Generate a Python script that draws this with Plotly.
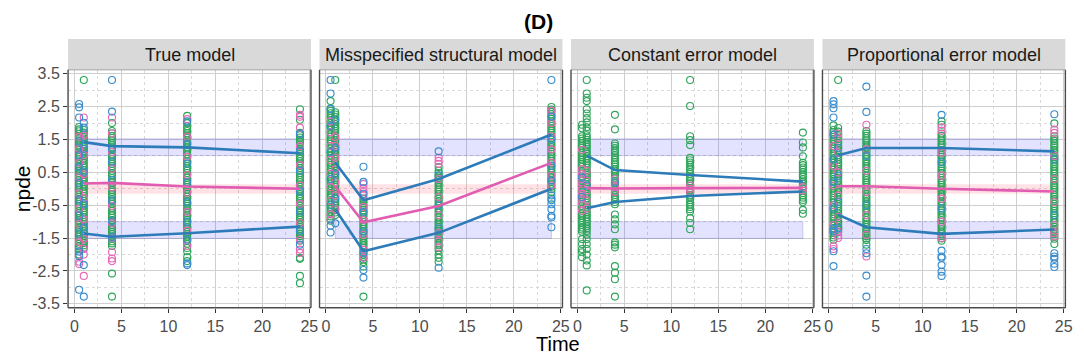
import plotly.graph_objects as go

W, H = 1084, 364

# ---------------------------------------------------------------- data
PANELS = ["True model", "Misspecified structural model",
          "Constant error model", "Proportional error model"]
TIMES = [0.5, 1, 4, 12, 24]          # observation times
BIN_TIMES = [1, 4, 12, 24]            # time bins of the empirical percentiles

# prediction intervals of the 5th / 50th / 95th percentiles (low, high)
PI_LOWER = [-1.51, -1.0]
PI_MEDIAN = [-0.15, 0.14]
PI_UPPER = [1.01, 1.52]

# npde values per panel and colour, one sub-list per observation time
true_green = [
    [1.88, 1.81, 1.75, 1.67, 1.6, 1.53, 1.47, 1.39, 1.32, 1.26, 1.18, 1.11, 1.04, 0.97, 0.9, 0.83, 0.75, 0.69,
     0.61, 0.54, 0.47, 0.4, 0.33, 0.26, 0.18, 0.12, 0.04, -0.03, -0.1, -0.17, -0.25, -0.31, -0.39, -0.46, -0.53,
     -0.6, -0.68, -0.74, -0.82, -0.89, -0.96, -1.03, -1.1, -1.18, -1.24, -1.32, -1.39, -1.46, -1.53, -1.61,
     -1.67, -1.75, -1.82, -2.0],
    [3.31, 1.79, 1.71, 1.65, 1.57, 1.5, 1.43, 1.35, 1.29, 1.21, 1.14, 1.07, 0.99, 0.92, 0.86, 0.78, 0.71, 0.64,
     0.57, 0.49, 0.43, 0.35, 0.28, 0.21, 0.13, 0.07, -0.01, -0.08, -0.15, -0.22, -0.29, -0.37, -0.43, -0.51,
     -0.58, -0.65, -0.72, -0.79, -0.87, -0.93, -1.01, -1.07, -1.15, -1.22, -1.29, -1.36, -1.44, -1.5, -1.58,
     -1.65, -1.72, -1.79],
    [2.0, 1.76, 1.69, 1.61, 1.55, 1.47, 1.4, 1.33, 1.26, 1.19, 1.12, 1.04, 0.98, 0.9, 0.83, 0.76, 0.69, 0.62,
     0.55, 0.47, 0.41, 0.33, 0.26, 0.19, 0.12, 0.05, -0.03, -0.09, -0.17, -0.24, -0.31, -0.38, -0.45, -0.53,
     -0.59, -0.67, -0.74, -0.81, -0.88, -0.95, -1.02, -1.1, -1.16, -1.24, -1.31, -1.38, -1.45, -1.52, -1.6,
     -1.66, -1.74, -2.58, -3.28],
    [2.22, 2.0, 1.9, 1.83, 1.76, 1.69, 1.62, 1.55, 1.47, 1.41, 1.33, 1.26, 1.19, 1.12, 1.05, 0.97, 0.91, 0.83,
     0.76, 0.69, 0.62, 0.55, 0.48, 0.4, 0.34, 0.26, 0.19, 0.12, 0.05, -0.02, -0.1, -0.16, -0.24, -0.31, -0.38,
     -0.45, -0.52, -0.6, -0.66, -0.74, -0.81, -0.88, -0.95, -1.02, -1.09, -1.17, -1.23, -1.31, -1.38, -1.45,
     -1.52, -1.59, -1.67, -1.8, -1.9, -2.08, -2.2],
    [2.42, 2.1, 1.7, 1.63, 1.56, 1.48, 1.42, 1.34, 1.27, 1.2, 1.13, 1.06, 0.98, 0.92, 0.84, 0.77, 0.7, 0.63,
     0.56, 0.48, 0.42, 0.34, 0.27, 0.2, 0.13, 0.06, -0.02, -0.08, -0.16, -0.23, -0.3, -0.37, -0.44, -0.51,
     -0.59, -0.65, -0.73, -0.8, -0.87, -0.94, -1.01, -1.08, -1.16, -1.22, -1.3, -1.37, -1.44, -1.51, -1.58,
     -2.1, -2.13, -2.65, -2.87],
]
true_pink = [
    [1.58, 1.21, 0.79, 0.36, -0.14, -0.61, -1.07, -1.62, -2.22, -2.29],
    [2.17, 1.62, 1.03, 0.44, -0.28, -0.93, -1.52, -1.83, -2.0, -2.65],
    [2.17, 1.69, 1.12, 0.61, 0.04, -0.52, -1.05, -1.5, -1.93, -2.12, -2.2],
    [2.12, 1.58, 0.97, 0.42, -0.12, -0.7, -1.27, -1.74],
    [2.25, 2.19, 1.86, 1.3, 0.72, 0.1, -0.46, -1.04, -1.55, -1.85, -1.95],
]
true_blue = [
    [2.58, 2.48, 2.17, 1.44, 1.02, 0.66, 0.18, -0.33, -0.81, -1.36, -1.91, -2.05, -3.07],
    [2.01, 1.86, 1.22, 0.52, -0.47, -1.18, -2.32, -3.28],
    [3.31, 2.35, 1.21, 0.83, 0.27, -0.35, -0.98, -1.47],
    [2.05, 1.36, 0.77, 0.2, -0.41, -1.0, -1.55, -2.27, -2.32],
    [1.67, 1.15, 0.55, -0.08, -0.69, -1.27, -1.7],
]

mis_green = [
    [2.67, 2.44, 2.37, 2.3, 2.22, 2.16, 2.08, 2.01, 1.94, 1.87, 1.8, 1.72, 1.66, 1.58, 1.51, 1.44, 1.37, 1.3,
     1.23, 1.15, 1.09, 1.01, 0.94, 0.87, 0.8, 0.73, 0.66, 0.58, 0.52, 0.44, 0.37, 0.3, 0.23, 0.16, 0.09, 0.01,
     -0.05, -0.13, -0.2, -0.27, -0.34, -0.41, -0.48, -0.56, -0.62, -0.7, -0.77, -0.84, -0.91, -0.97],
    [3.31, 2.33, 2.26, 2.19, 2.11, 2.05, 1.97, 1.9, 1.83, 1.76, 1.69, 1.62, 1.55, 1.47, 1.41, 1.33, 1.26, 1.19,
     1.12, 1.05, 0.98, 0.91, 0.84, 0.76, 0.7, 0.62, 0.55, 0.48, 0.41, 0.34, 0.27, 0.2, 0.12, 0.06, -0.02, -0.08,
     -0.16, -0.23, -0.3, -0.37, -0.44, -0.51, -0.58, -0.65, -0.72, -0.8],
    [-0.3, -0.37, -0.44, -0.51, -0.58, -0.65, -0.73, -0.79, -0.87, -0.94, -1.01, -1.08, -1.15, -1.22, -1.29,
     -1.36, -1.44, -1.5, -1.58, -1.65, -1.72, -1.79, -1.86, -1.93, -2.0, -2.08, -2.15, -2.23, -2.36, -3.28],
    [0.66, 0.55, 0.48, 0.41, 0.34, 0.26, 0.19, 0.12, 0.05, -0.02, -0.09, -0.16, -0.24, -0.3, -0.38, -0.45,
     -0.52, -0.59, -0.66, -0.73, -0.8, -0.87, -0.94, -1.02, -1.08, -1.16, -1.23, -1.3, -1.37, -1.44, -1.51,
     -1.58, -1.66, -1.72, -1.8, -1.87, -2.0, -2.1, -2.22],
    [2.49, 2.41, 2.34, 2.27, 2.19, 2.13, 2.05, 1.98, 1.91, 1.84, 1.77, 1.7, 1.63, 1.55, 1.49, 1.41, 1.34, 1.27,
     1.2, 1.13, 1.06, 0.99, 0.91, 0.85, 0.77, 0.7, 0.63, 0.56, 0.49, 0.42, 0.35, 0.27, 0.21, 0.13, 0.06, -0.01,
     -0.1, -0.3],
]
mis_pink = [
    [2.05, 1.72, 1.3, 0.88, 0.46, 0.05, -0.37, -0.78, -0.94],
    [1.58, 1.31, 0.95, 0.6, 0.2, -0.2, -0.62],
    [0.15, 0.02, -0.09, -0.2, -0.55, -0.95, -1.4, -1.85, -2.1],
    [0.95, 0.85, 0.76, 0.3, -0.25, -0.8, -1.35, -1.6, -1.78],
    [2.38, 2.0, 1.6, 1.2, 0.8, 0.4, 0.1],
]
mis_blue = [
    [3.31, 2.9, 2.43, 1.9, 1.12, 0.3, -0.5, -1.12, -1.33],
    [2.1, 1.25, 0.45, -0.3, -1.05],
    [0.67, 0.21, -0.15, -0.7, -1.3, -1.95, -2.47, -2.7],
    [1.14, 0.4, -0.5, -1.2, -2.4],
    [3.31, 2.2, 1.5, 0.7, 0.25, -0.2, -0.35, -0.47, -0.62, -0.82, -0.87, -1.17],
]

con_green = [
    [1.95, 1.84, 1.6, 1.53, 1.46, 1.39, 1.31, 1.25, 1.17, 1.1, 1.03, 0.96, 0.89, 0.81, 0.75, 0.67, 0.6, 0.53,
     0.46, 0.39, 0.32, 0.25, 0.17, 0.11, 0.03, -0.04, -0.11, -0.18, -0.25, -0.32, -0.39, -0.47, -0.53, -0.61,
     -0.67, -0.75, -0.82, -0.89, -0.96, -1.03, -1.1, -1.18, -1.24, -1.31, -1.53, -1.68, -1.83, -1.93, -2.08],
    [3.31, 2.9, 2.77, 2.67, 2.42, 2.29, 2.15, 2.02, 1.87, 1.77, 1.63, 1.56, 1.49, 1.42, 1.35, 1.28, 1.21, 1.13,
     1.07, 0.99, 0.92, 0.85, 0.78, 0.71, 0.64, 0.57, 0.49, 0.43, 0.35, 0.28, 0.21, 0.14, 0.07, 0.0, -0.07,
     -0.15, -0.21, -0.29, -0.36, -0.43, -0.5, -0.57, -0.64, -0.71, -0.78, -0.86, -0.92, -1.0, -1.07, -1.14,
     -1.21, -1.28, -1.4, -1.53, -1.68, -1.83, -2.0, -2.18, -2.33, -3.09],
    [2.25, 1.81, 1.38, 1.31, 1.24, 1.16, 1.1, 1.02, 0.95, 0.88, 0.81, 0.74, 0.67, 0.59, 0.53, 0.45, 0.38, 0.31,
     0.24, 0.17, 0.1, 0.03, -0.05, -0.11, -0.19, -0.26, -0.33, -0.4, -0.47, -0.78, -0.93, -1.08, -1.23, -1.63,
     -1.7, -1.78, -2.35, -2.55, -2.75, -3.28],
    [3.31, 2.52, 1.6, 1.48, 1.33, 0.94, 0.87, 0.8, 0.73, 0.66, 0.59, 0.51, 0.45, 0.37, 0.3, 0.23, 0.16, 0.09,
     0.02, -0.05, -0.12, -0.2, -0.26, -0.34, -0.41, -0.48, -0.55, -0.62, -0.69, -0.89, -1.04, -1.23],
    [1.71, 1.41, 1.26, 0.99, 0.79, 0.72, 0.65, 0.58, 0.51, 0.43, 0.37, 0.29, 0.22, 0.15, 0.08, 0.01, -0.06,
     -0.13, -0.2, -0.27, -0.34, -0.4, -0.64, -0.76],
]
con_pink = [
    [1.19, 0.6, 0.45, 0.3, 0.15, 0.0, -0.15, -0.3, -0.45, -0.67],
    [0.55, 0.25, -0.05, -0.35, -0.6],
    [0.3, 0.05, -0.1],
    [0.1, 0.0, -0.1],
    [0.05, -0.05],
]
con_blue = [
    [0.35, -0.25],
    [0.1],
    [0.2],
    [],
    [],
]

prop_green = [
    [1.93, 1.79, 1.72, 1.65, 1.58, 1.5, 1.44, 1.36, 1.29, 1.22, 1.15, 1.08, 1.01, 0.93, 0.87, 0.79, 0.72, 0.65,
     0.58, 0.51, 0.44, 0.37, 0.29, 0.23, 0.15, 0.08, 0.01, -0.06, -0.13, -0.2, -0.28, -0.34, -0.42, -0.49,
     -0.56, -0.63, -0.7, -0.77, -0.84, -0.91, -0.98, -1.06, -1.12, -1.2, -1.27, -1.34, -1.41, -1.48, -1.55],
    [3.31, 1.85, 1.74, 1.67, 1.6, 1.53, 1.45, 1.39, 1.31, 1.24, 1.17, 1.1, 1.03, 0.96, 0.89, 0.81, 0.75, 0.67,
     0.6, 0.53, 0.46, 0.39, 0.32, 0.25, 0.17, 0.11, 0.03, -0.04, -0.11, -0.18, -0.25, -0.32, -0.39, -0.47,
     -0.53, -0.61, -0.67, -0.75, -0.82, -0.89, -0.96, -1.03, -1.1, -1.18, -1.24, -1.32],
    [1.76, 1.68, 1.61, 1.54, 1.47, 1.4, 1.32, 1.26, 1.18, 1.12, 1.04, 0.97, 0.9, 0.83, 0.76, 0.69, 0.62, 0.54,
     0.48, 0.4, 0.33, 0.26, 0.19, 0.12, 0.05, -0.02, -0.1, -0.16, -0.24, -0.3, -0.38, -0.45, -0.52, -0.59,
     -0.66, -0.73, -0.8, -0.87, -0.95, -1.01, -1.09, -1.16, -1.23, -1.3, -1.37, -1.44, -1.51, -1.56, -1.7],
    [2.05, 1.95, 1.68, 1.61, 1.54, 1.47, 1.39, 1.33, 1.25, 1.18, 1.11, 1.04, 0.97, 0.9, 0.83, 0.75, 0.69, 0.61,
     0.55, 0.47, 0.4, 0.33, 0.26, 0.19, 0.12, 0.05, -0.03, -0.09, -0.17, -0.23, -0.31, -0.38, -0.45, -0.52,
     -0.59, -0.66, -0.73, -0.8, -0.87, -0.95, -1.01, -1.09, -1.15, -1.23, -1.3, -1.37, -1.44, -1.51, -1.58],
    [1.99, 1.6, 1.53, 1.46, 1.39, 1.31, 1.25, 1.17, 1.11, 1.03, 0.96, 0.89, 0.82, 0.75, 0.68, 0.6, 0.54, 0.46,
     0.39, 0.32, 0.25, 0.18, 0.11, 0.04, -0.03, -0.1, -0.18, -0.24, -0.32, -0.38, -0.46, -0.53, -0.6, -0.67,
     -0.74, -0.81, -0.88, -0.95, -1.02, -1.1, -1.16, -1.24, -1.3, -1.38, -1.45, -1.52, -1.68],
]
prop_pink = [
    [1.3, 0.7, 0.1, -0.5, -1.1, -1.75, -1.83],
    [1.68, 1.55, 1.1, 0.5, -0.2, -0.85, -1.3, -1.42, -1.5],
    [1.95, 1.2, 0.55, -0.1, -0.8, -1.4, -2.06],
    [1.87, 1.77, 1.1, 0.4, -0.3, -1.0, -1.5],
    [1.8, 1.7, 1.0, 0.3, -0.4, -1.1, -1.35, -1.45],
]
prop_blue = [
    [2.67, 2.57, 2.45, 2.17, 1.65, 0.9, 0.2, -0.6, -1.22, -1.3, -1.9, -2.35],
    [1.25, 0.4, -0.4, -1.2],
    [3.11, 2.34, 1.0, -0.5, -1.83, -1.96, -2.64, -3.28],
    [2.25, 0.8, -0.6, -1.88, -2.06, -2.1, -2.32, -2.52, -2.65],
    [2.27, 0.9, -0.8, -1.96, -2.06, -2.13, -2.28, -2.38],
]

# empirical percentiles per time bin: 5th, 50th, 95th
true_p05 = [-1.36, -1.46, -1.35, -1.15]
true_p50 = [0.16, 0.18, 0.07, 0.0]
true_p95 = [1.42, 1.3, 1.26, 1.08]
mis_p05 = [-0.62, -1.9, -1.34, 0.0]
mis_p50 = [0.07, -1.02, -0.52, 0.79]
mis_p95 = [0.8, -0.35, 0.3, 1.65]
con_p05 = [-0.59, -0.4, -0.22, -0.08]
con_p50 = [0.02, 0.01, 0.02, 0.03]
con_p95 = [1.01, 0.57, 0.42, 0.22]
prop_p05 = [-0.79, -1.17, -1.37, -1.24]
prop_p50 = [0.08, 0.08, 0.0, -0.08]
prop_p95 = [1.02, 1.24, 1.24, 1.14]

X_TICKS = [0, 5, 10, 15, 20, 25]
Y_TICKS = [-3.5, -2.5, -1.5, -0.5, 0.5, 1.5, 2.5, 3.5]

# ---------------------------------------------------------------- styling
FONT = "Liberation Sans, Arial, sans-serif"
GREEN = "#30a55b"
PINK = "#e668b8"
BLUE = "#3a8dce"
LINE_BLUE = "#2d7cb9"
LINE_PINK = "#e05db1"
BAND_BLUE = "rgba(40,40,255,0.13)"
BAND_PINK = "rgba(255,60,90,0.15)"
GRID = "#cfcfcf"
GRID_MINOR = "#d9d9d9"
BORDER = "#4a4a4a"

PANEL_LEFT, PANEL_W, PANEL_GAP = 68.5, 244.5, 8.6
PLOT_TOP, PLOT_BOTTOM = 67.5, 311.5
STRIP_TOP = 36.0

panel_data = [
    (true_green, true_pink, true_blue, true_p05, true_p50, true_p95),
    (mis_green, mis_pink, mis_blue, mis_p05, mis_p50, mis_p95),
    (con_green, con_pink, con_blue, con_p05, con_p50, con_p95),
    (prop_green, prop_pink, prop_blue, prop_p05, prop_p50, prop_p95),
]


def px_x(p):
    return p / W


def px_y(p):
    return 1 - p / H


fig = go.Figure()
shapes, annotations = [], []

for i, (name, (green, pink, blue, p05, p50, p95)) in enumerate(zip(PANELS, panel_data)):
    sfx = "" if i == 0 else str(i + 1)
    xa, ya = "x" + sfx, "y" + sfx
    t0, t1 = BIN_TIMES[0], BIN_TIMES[-1]

    # prediction-interval bands
    for (lo, hi), fill in [(PI_UPPER, BAND_BLUE), (PI_MEDIAN, BAND_PINK), (PI_LOWER, BAND_BLUE)]:
        edge = "rgba(90,90,190,0.35)" if fill == BAND_BLUE else "rgba(0,0,0,0)"
        fig.add_trace(go.Scatter(
            x=[t0, t1, t1, t0, t0], y=[lo, lo, hi, hi, lo], xaxis=xa, yaxis=ya,
            mode="lines", fill="toself", fillcolor=fill,
            line=dict(color=edge, width=0.8), hoverinfo="skip", showlegend=False))

    # observations as open circles
    for groups, colour in [(green, GREEN), (pink, PINK), (blue, BLUE)]:
        xs, ys = [], []
        for t, vals in zip(TIMES, groups):
            xs += [t] * len(vals)
            ys += vals
        fig.add_trace(go.Scatter(
            x=xs, y=ys, xaxis=xa, yaxis=ya, mode="markers",
            marker=dict(symbol="circle-open", size=7, color=colour, line=dict(width=1.15)),
            showlegend=False))

    # empirical percentile lines
    for vals, colour in [(p05, LINE_BLUE), (p50, LINE_PINK), (p95, LINE_BLUE)]:
        fig.add_trace(go.Scatter(
            x=BIN_TIMES, y=vals, xaxis=xa, yaxis=ya, mode="lines",
            line=dict(color=colour, width=2.6), showlegend=False))

    left = PANEL_LEFT + i * (PANEL_W + PANEL_GAP)
    right = left + PANEL_W

    axis_common = dict(showgrid=True, gridcolor=GRID, gridwidth=1.3, zeroline=False,
                       showline=False, ticks="outside", ticklen=4, tickwidth=1.1,
                       tickcolor="#333333",
                       tickfont=dict(family=FONT, size=16, color="#4d4d4d"))
    fig.layout["xaxis" + sfx] = dict(
        axis_common, domain=[px_x(left), px_x(right)], range=[-0.675, 25.175],
        anchor=ya, tickmode="array", tickvals=X_TICKS, ticktext=[str(v) for v in X_TICKS],
        minor=dict(tickmode="array", tickvals=[2.5, 7.5, 12.5, 17.5, 22.5], showgrid=True,
                   gridcolor=GRID_MINOR, griddash="dot", gridwidth=1, ticks=""))
    ydict = dict(
        axis_common, domain=[px_y(PLOT_BOTTOM), px_y(PLOT_TOP)], range=[-3.62, 3.62],
        anchor=xa, tickmode="array", tickvals=Y_TICKS, ticktext=[f"{v:.1f}" for v in Y_TICKS],
        minor=dict(tickmode="array", tickvals=[-3, -2, -1, 0, 1, 2, 3], showgrid=True,
                   gridcolor=GRID_MINOR, griddash="dot", gridwidth=1, ticks=""))
    if i > 0:
        ydict.update(showticklabels=False, ticks="", matches="y")
    fig.layout["yaxis" + sfx] = ydict

    # facet strip
    shapes.append(dict(type="rect", xref="paper", yref="paper",
                       x0=px_x(left), x1=px_x(right), y0=px_y(PLOT_TOP), y1=px_y(STRIP_TOP),
                       fillcolor="#d9d9d9", line=dict(width=0), layer="below"))
    annotations.append(dict(text=name, xref="paper", yref="paper",
                            x=px_x((left + right) / 2), y=px_y((STRIP_TOP + PLOT_TOP) / 2 + 0.5),
                            showarrow=False, xanchor="center", yanchor="middle",
                            font=dict(family=FONT, size=18, color="#1a1a1a")))

    # panel frame
    shapes.append(dict(type="line", xref="paper", yref="paper",
                       x0=px_x(left), x1=px_x(right), y0=px_y(PLOT_TOP), y1=px_y(PLOT_TOP),
                       line=dict(color="#a0a0a0", width=1)))
    for x0, y0, x1, y1 in [(left, PLOT_TOP, left, PLOT_BOTTOM),
                           (right, PLOT_TOP, right, PLOT_BOTTOM),
                           (left, PLOT_BOTTOM, right, PLOT_BOTTOM)]:
        shapes.append(dict(type="line", xref="paper", yref="paper",
                           x0=px_x(x0), x1=px_x(x1), y0=px_y(y0), y1=px_y(y1),
                           line=dict(color=BORDER, width=1.4)))

annotations += [
    dict(text="<b>(D)</b>", xref="paper", yref="paper", x=px_x(542), y=px_y(18),
         showarrow=False, xanchor="center", yanchor="middle",
         font=dict(family=FONT, size=21, color="#000000")),
    dict(text="npde", xref="paper", yref="paper", x=px_x(22), y=px_y(189),
         showarrow=False, textangle=-90, xanchor="center", yanchor="middle",
         font=dict(family=FONT, size=21, color="#000000")),
    dict(text="Time", xref="paper", yref="paper", x=px_x(562), y=px_y(349),
         showarrow=False, xanchor="center", yanchor="middle",
         font=dict(family=FONT, size=20, color="#000000")),
]

fig.update_layout(
    width=W, height=H, margin=dict(l=0, r=0, t=0, b=0),
    paper_bgcolor="white", plot_bgcolor="white",
    shapes=shapes, annotations=annotations, showlegend=False,
    font=dict(family=FONT),
)

fig.write_html("out.html")
